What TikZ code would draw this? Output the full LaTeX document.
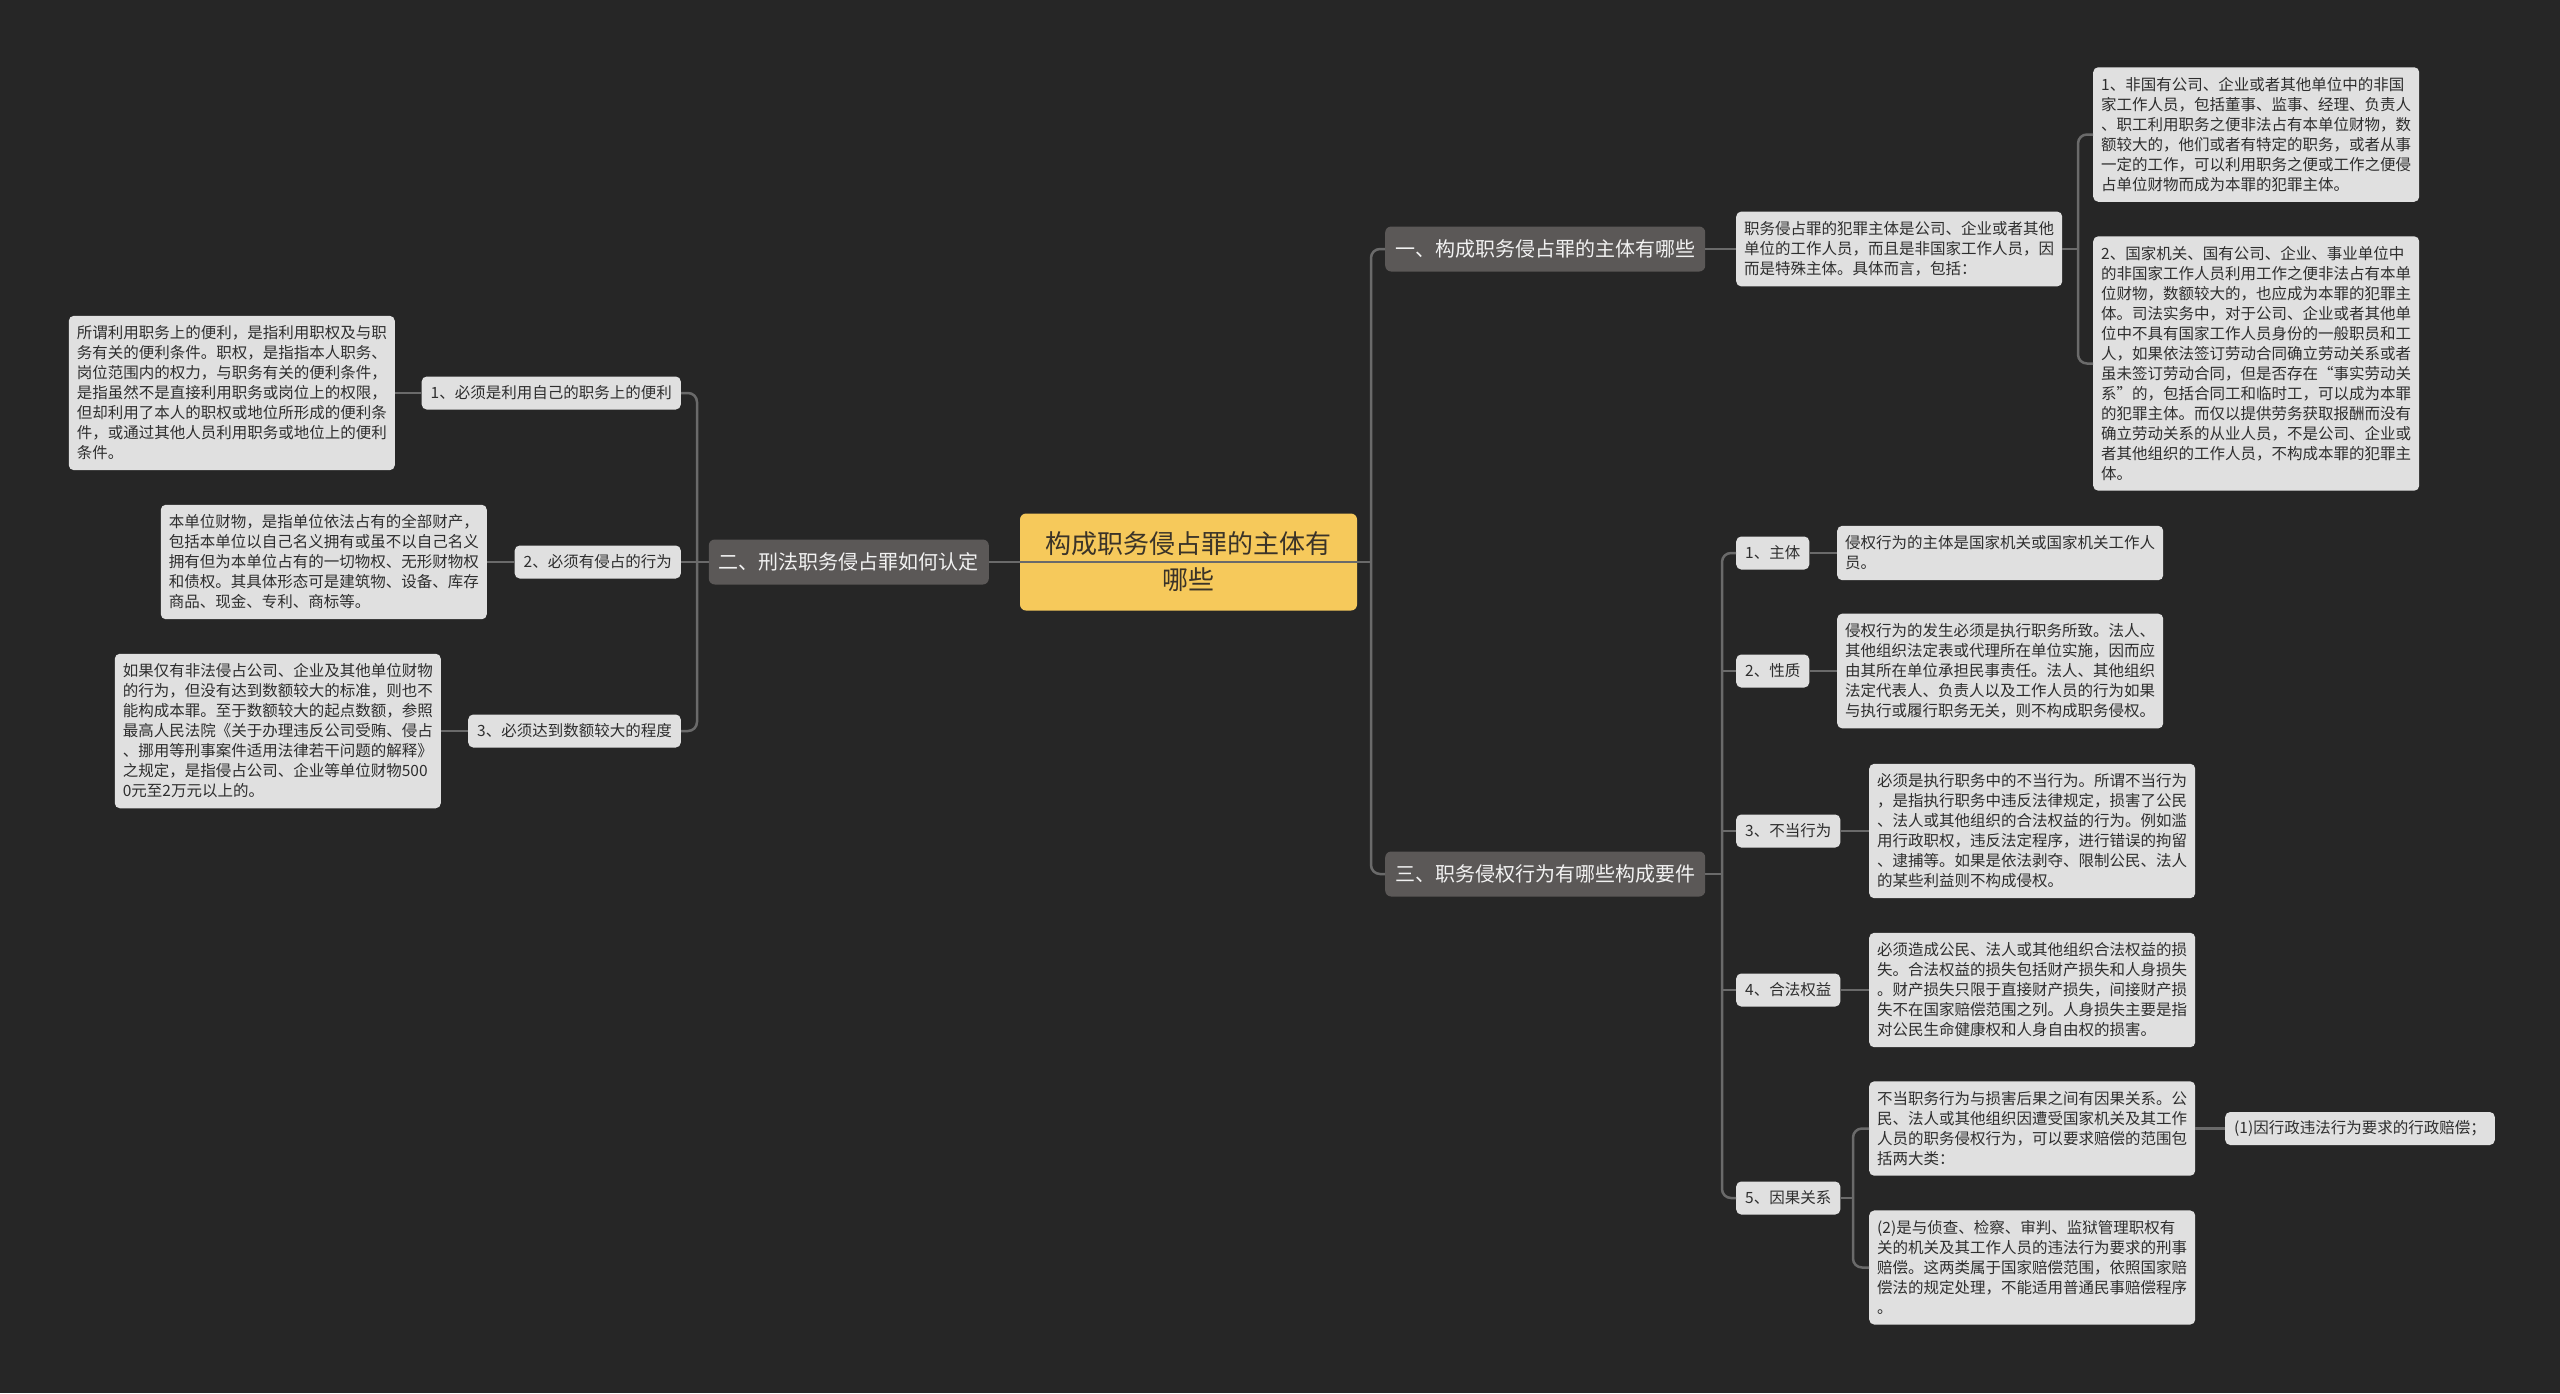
\documentclass[tikz,border=0pt]{standalone}
\usepackage{fontspec}
\newfontfamily\cjk{Noto Sans CJK SC}
\definecolor{bgc}{HTML}{262626}
\definecolor{connc}{HTML}{6A6A6A}
\definecolor{leaff}{HTML}{E0E0E0}
\definecolor{leaft}{HTML}{2E2E2E}
\definecolor{brf}{HTML}{5B5857}
\definecolor{brt}{HTML}{F2F2F2}
\definecolor{rootf}{HTML}{F6C95B}
\definecolor{roott}{HTML}{3A3328}
\tikzset{
  conn/.style={draw=connc, line width=2.5pt},
  leaf/.style={fill=leaff, text=leaft, rounded corners=5pt, align=left, inner xsep=8pt, inner ysep=10pt, font=\cjk\fontsize{15.5}{20}\selectfont},
  sublabel/.style={leaf, minimum height=33pt, inner ysep=4pt, inner xsep=9pt},
  branch/.style={fill=brf, text=brt, rounded corners=6pt, inner xsep=10pt, minimum height=45pt, font=\cjk\fontsize{20}{24}\selectfont},
  rootbox/.style={fill=rootf, text=roott, rounded corners=6pt, minimum width=337pt, minimum height=97pt, align=center, font=\cjk\fontsize{26}{36}\selectfont},
}
\begin{document}
\begin{tikzpicture}[x=1pt, y=-1pt]
\fill[bgc] (0,0) rectangle (2560,1393);
\useasboundingbox (0,0) rectangle (2560,1393);

% root and branches
\node[rootbox] (root) at (1188.5,562) {构成职务侵占罪的主体有\\哪些};
\node[branch, anchor=east] (b2) at (989,562) {二、刑法职务侵占罪如何认定};
\node[branch, anchor=west] (b1) at (1385,249) {一、构成职务侵占罪的主体有哪些};
\node[branch, anchor=west] (b3) at (1385,874) {三、职务侵权行为有哪些构成要件};

% left side
\node[sublabel, anchor=east] (l1) at (681,393) {1、必须是利用自己的职务上的便利};
\node[sublabel, anchor=east] (l2) at (681,562) {2、必须有侵占的行为};
\node[sublabel, anchor=east] (l3) at (681,731) {3、必须达到数额较大的程度};

\node[leaf, anchor=east] (l1t) at (395,393) {所谓利用职务上的便利，是指利用职权及与职\\务有关的便利条件。职权，是指指本人职务、\\岗位范围内的权力，与职务有关的便利条件，\\是指虽然不是直接利用职务或岗位上的权限，\\但却利用了本人的职权或地位所形成的便利条\\件，或通过其他人员利用职务或地位上的便利\\条件。};
\node[leaf, anchor=east] (l2t) at (487,562) {本单位财物，是指单位依法占有的全部财产，\\包括本单位以自己名义拥有或虽不以自己名义\\拥有但为本单位占有的一切物权、无形财物权\\和债权。其具体形态可是建筑物、设备、库存\\商品、现金、专利、商标等。};
\node[leaf, anchor=east] (l3t) at (441,731) {如果仅有非法侵占公司、企业及其他单位财物\\的行为，但没有达到数额较大的标准，则也不\\能构成本罪。至于数额较大的起点数额，参照\\最高人民法院《关于办理违反公司受贿、侵占\\、挪用等刑事案件适用法律若干问题的解释》\\之规定，是指侵占公司、企业等单位财物500\\0元至2万元以上的。};

% right top
\node[leaf, anchor=west] (r1) at (1736,249) {职务侵占罪的犯罪主体是公司、企业或者其他\\单位的工作人员，而且是非国家工作人员，因\\而是特殊主体。具体而言，包括：};
\node[leaf, anchor=west] (r1a) at (2093,134.5) {1、非国有公司、企业或者其他单位中的非国\\家工作人员，包括董事、监事、经理、负责人\\、职工利用职务之便非法占有本单位财物，数\\额较大的，他们或者有特定的职务，或者从事\\一定的工作，可以利用职务之便或工作之便侵\\占单位财物而成为本罪的犯罪主体。};
\node[leaf, anchor=west] (r1b) at (2093,363.5) {2、国家机关、国有公司、企业、事业单位中\\的非国家工作人员利用工作之便非法占有本单\\位财物，数额较大的，也应成为本罪的犯罪主\\体。司法实务中，对于公司、企业或者其他单\\位中不具有国家工作人员身份的一般职员和工\\人，如果依法签订劳动合同确立劳动关系或者\\虽未签订劳动合同，但是否存在“事实劳动关\\系”的，包括合同工和临时工，可以成为本罪\\的犯罪主体。而仅以提供劳务获取报酬而没有\\确立劳动关系的从业人员，不是公司、企业或\\者其他组织的工作人员，不构成本罪的犯罪主\\体。};

% right bottom
\node[sublabel, anchor=west] (t1) at (1736,553) {1、主体};
\node[sublabel, anchor=west] (t2) at (1736,671) {2、性质};
\node[sublabel, anchor=west] (t3) at (1736,831) {3、不当行为};
\node[sublabel, anchor=west] (t4) at (1736,990) {4、合法权益};
\node[sublabel, anchor=west] (t5) at (1736,1198) {5、因果关系};

\node[leaf, anchor=west] (t1t) at (1837,553) {侵权行为的主体是国家机关或国家机关工作人\\员。};
\node[leaf, anchor=west] (t2t) at (1837,671) {侵权行为的发生必须是执行职务所致。法人、\\其他组织法定表或代理所在单位实施，因而应\\由其所在单位承担民事责任。法人、其他组织\\法定代表人、负责人以及工作人员的行为如果\\与执行或履行职务无关，则不构成职务侵权。};
\node[leaf, anchor=west] (t3t) at (1869,831) {必须是执行职务中的不当行为。所谓不当行为\\，是指执行职务中违反法律规定，损害了公民\\、法人或其他组织的合法权益的行为。例如滥\\用行政职权，违反法定程序，进行错误的拘留\\、逮捕等。如果是依法剥夺、限制公民、法人\\的某些利益则不构成侵权。};
\node[leaf, anchor=west] (t4t) at (1869,990) {必须造成公民、法人或其他组织合法权益的损\\失。合法权益的损失包括财产损失和人身损失\\。财产损失只限于直接财产损失，间接财产损\\失不在国家赔偿范围之列。人身损失主要是指\\对公民生命健康权和人身自由权的损害。};
\node[leaf, anchor=west] (t5a) at (1869,1128.5) {不当职务行为与损害后果之间有因果关系。公\\民、法人或其他组织因遭受国家机关及其工作\\人员的职务侵权行为，可以要求赔偿的范围包\\括两大类：};
\node[leaf, anchor=west] (t5b) at (1869,1267.5) {(2)是与侦查、检察、审判、监狱管理职权有\\关的机关及其工作人员的违法行为要求的刑事\\赔偿。这两类属于国家赔偿范围，依照国家赔\\偿法的规定处理，不能适用普通民事赔偿程序\\。};
\node[sublabel, anchor=west] (t5c) at (2225,1128.5) {(1)因行政违法行为要求的行政赔偿；};

% bracket coordinates
\coordinate (bl) at (697,562);
\coordinate (br) at (1371,562);
\coordinate (bq1) at (2078,249);
\coordinate (bq3) at (1722,874);
\coordinate (bq5) at (1853,1198);

% left connectors
\draw[conn, rounded corners=9pt] (l1.east) -| (bl) |- (l3.east);
\draw[conn] (b2.west) -- (l2.east);
\draw[conn] (l1t.east) -- (l1.west);
\draw[conn] (l2t.east) -- (l2.west);
\draw[conn] (l3t.east) -- (l3.west);
% right connectors
\draw[conn, rounded corners=9pt] (b1.west) -| (br) |- (b3.west);
\draw[conn] (root.east) -- (br);
\draw[conn] (b1.east) -- (r1.west);
\draw[conn] (r1.east) -- (bq1);
\draw[conn, rounded corners=9pt] (r1a.west) -| (bq1) |- (r1b.west);
\draw[conn] (b3.east) -- (bq3);
\draw[conn, rounded corners=9pt] (t1.west) -| (bq3) |- (t5.west);
\draw[conn] (t2.west) -- (t2.west -| bq3);
\draw[conn] (t3.west) -- (t3.west -| bq3);
\draw[conn] (t4.west) -- (t4.west -| bq3);
\draw[conn] (t1.east) -- (t1t.west);
\draw[conn] (t2.east) -- (t2t.west);
\draw[conn] (t3.east) -- (t3t.west);
\draw[conn] (t4.east) -- (t4t.west);
\draw[conn] (t5.east) -- (bq5);
\draw[conn, rounded corners=9pt] (t5a.west) -| (bq5) |- (t5b.west);
\draw[conn] (t5a.east) -- (t5c.west);
% line drawn across the root
\draw[conn] (b2.east) -- (br);
\end{tikzpicture}
\end{document}
